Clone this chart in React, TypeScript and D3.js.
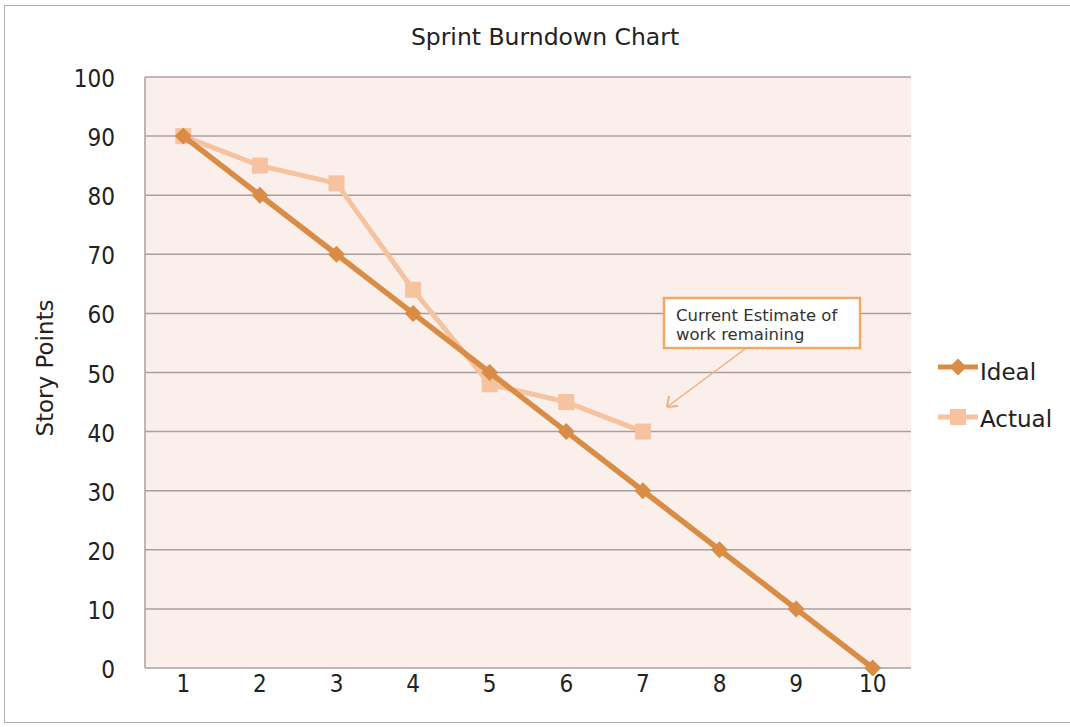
import * as d3 from "d3";

const days = [1, 2, 3, 4, 5, 6, 7, 8, 9, 10];
const ideal = [90, 80, 70, 60, 50, 40, 30, 20, 10, 0];
const actual = [90, 85, 82, 64, 48, 45, 40];
const yTicks = [0, 10, 20, 30, 40, 50, 60, 70, 80, 90, 100];

const W = 1070;
const H = 727;
const left = 145;
const right = 911;
const top = 77;
const bottom = 668;

const idealColor = "#d98c45";
const actualColor = "#f6c29f";

export default function App() {
  const x = d3.scalePoint<number>().domain(days).range([left, right]).padding(0.5);
  const y = d3.scaleLinear().domain([0, 100]).range([bottom, top]);

  const line = d3
    .line<number>()
    .x((_, i) => x(days[i])!)
    .y((d) => y(d));

  const tickFont = "'DejaVu Sans Condensed', 'Liberation Sans Narrow', 'DejaVu Sans', sans-serif";
  const sans = "Verdana, 'DejaVu Sans', sans-serif";

  return (
    <svg width={W} height={H} style={{ position: "absolute", left: 0, top: 0 }}>
      <rect x={0} y={0} width={W} height={H} fill="#fff" />
      <rect x={4.5} y={5.5} width={W} height={717} fill="#fff" stroke="#b0b0b0" />
      <text x={545} y={45} textAnchor="middle" fontFamily={sans} fontSize={23.5} fill="#222">
        Sprint Burndown Chart
      </text>

      <rect x={left} y={top} width={right - left} height={bottom - top} fill="#fbefeb" />
      {yTicks.map((t) => (
        <line key={t} x1={left} x2={right} y1={y(t)} y2={y(t)} stroke="#a8a0a0" strokeWidth={1.5} />
      ))}
      <line x1={left} x2={left} y1={top} y2={bottom} stroke="#a8a0a0" strokeWidth={1.5} />

      {yTicks.map((t) => (
        <text key={t} x={115} y={y(t) + 10} textAnchor="end" fontFamily={tickFont} fontSize={24} fill="#222">
          {t}
        </text>
      ))}
      {days.map((d) => (
        <text key={d} x={x(d)!} y={692} textAnchor="middle" fontFamily={tickFont} fontSize={24} fill="#222">
          {d}
        </text>
      ))}
      <text
        transform={`translate(53, 368) rotate(-90)`}
        textAnchor="middle"
        fontFamily="'DejaVu Sans', Verdana, sans-serif"
        fontSize={23}
        fill="#222"
      >
        Story Points
      </text>

      <path d={line(actual) ?? ""} fill="none" stroke={actualColor} strokeWidth={5} strokeLinejoin="round" />
      {actual.map((v, i) => (
        <rect key={i} x={x(days[i])! - 8} y={y(v) - 8} width={16} height={16} fill={actualColor} />
      ))}
      <path d={line(ideal) ?? ""} fill="none" stroke={idealColor} strokeWidth={5.5} strokeLinejoin="round" />
      {ideal.map((v, i) => (
        <rect
          key={i}
          x={-6}
          y={-6}
          width={12}
          height={12}
          fill={idealColor}
          transform={`translate(${x(days[i])}, ${y(v)}) rotate(45)`}
        />
      ))}

      <rect x={664} y={298} width={196} height={50} fill="#fff" stroke="#f0a86a" strokeWidth={2.5} />
      <text x={676} y={321} fontFamily={sans} fontSize={16.5} fill="#333">
        Current Estimate of
      </text>
      <text x={676} y={340} fontFamily={sans} fontSize={16.5} fill="#333">
        work remaining
      </text>
      <line x1={745} y1={349} x2={667} y2={407} stroke="#f0b080" strokeWidth={1.5} />
      <path d="M667,407 L669,396 M667,407 L678,406" fill="none" stroke="#f0b080" strokeWidth={2} />

      <line x1={938} x2={978} y1={367} y2={367} stroke={idealColor} strokeWidth={5} />
      <rect x={-6} y={-6} width={12} height={12} fill={idealColor} transform="translate(958,367) rotate(45)" />
      <text x={980} y={380} fontFamily="'DejaVu Sans', sans-serif" fontSize={23} fill="#222">
        Ideal
      </text>
      <line x1={938} x2={978} y1={417} y2={417} stroke={actualColor} strokeWidth={5} />
      <rect x={950} y={409} width={16} height={16} fill={actualColor} />
      <text x={980} y={427} fontFamily="'DejaVu Sans', sans-serif" fontSize={23} fill="#222">
        Actual
      </text>
    </svg>
  );
}
